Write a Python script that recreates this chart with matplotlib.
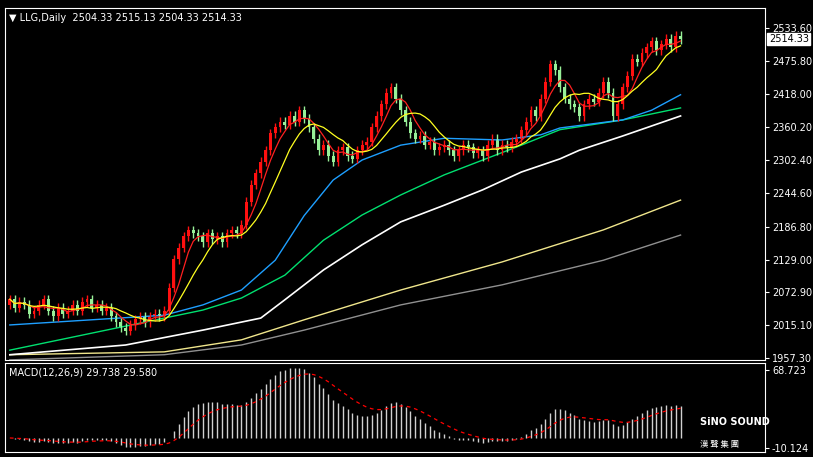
import numpy as np
import pandas as pd
import matplotlib
matplotlib.use("Agg")
import matplotlib.pyplot as plt

closes = [2060,2045,2055,2050,2035,2040,
          2050,2060,2040,2030,2045,2035,2040,
          2050,2040,2055,2060,2045,2050,2040,2045,
          2030,2020,2010,2005,2015,
          2025,2030,2020,2030,2035,2030,2040,
          2080,2130,2150,2170,2180,
          2175,2170,2160,2175,2165,2170,2160,2175,2180,2175,2190,
          2230,2260,2280,2300,2320,2350,2360,2370,2365,
          2380,2370,2390,2375,2360,
          2340,2320,2330,2310,2300,2320,2325,2310,2305,2320,2330,2335,
          2360,2380,2400,2420,2430,2410,
          2390,2370,2350,2340,2345,2330,2335,2320,2325,2330,
          2320,2310,2320,2330,2325,2315,2320,2310,2330,2340,2320,2330,2325,2335,2340,2355,
          2370,2390,2380,2410,2440,2470,2460,
          2430,2410,2400,2395,2380,2400,2410,2405,
          2420,2440,2420,2380,2400,
          2430,2450,2480,2475,2490,2500,
          2510,2495,2505,2515,2500,2520,2514.33]
first_open = 2050

blue_idx = [0,32,40,48,55,61,67,73,81,90,102,110,114,127,133,139]
blue_val = [2015,2032,2050,2076,2128,2206,2268,2303,2329,2341,2338,2347,2359,2373,2390,2417]
green_idx = [0,20,40,48,57,65,73,81,90,98,106,114,127,139]
green_val = [1971,2006,2041,2062,2102,2163,2207,2242,2277,2303,2329,2356,2373,2394]
white_idx = [0,24,40,52,57,65,73,81,90,98,106,114,118,127,139]
white_val = [1963,1980,2006,2027,2059,2111,2155,2195,2224,2251,2282,2305,2320,2345,2380]
pyel_idx = [0,32,48,61,81,102,123,139]
pyel_val = [1963,1968,1989,2024,2076,2125,2181,2233]
gray_idx = [0,32,48,61,81,102,123,139]
gray_val = [1954,1963,1980,2006,2050,2085,2128,2172]

price_ticks = [2533.60,2475.80,2418.00,2360.20,2302.40,2244.60,2186.80,2129.00,2072.90,2015.10,1957.30]

c = np.array(closes, dtype=float)
o = np.concatenate([[first_open], c[:-1]])
n = len(c)
x = np.arange(n)
s = pd.Series(c)
ma_fast = s.rolling(5, min_periods=1).mean()
ma_slow = s.rolling(10, min_periods=1).mean()
ema12 = s.ewm(span=12, adjust=False).mean()
ema26 = s.ewm(span=26, adjust=False).mean()
macd = ema12 - ema26
signal = macd.ewm(span=9, adjust=False).mean()

W, H = 813, 457
fig = plt.figure(figsize=(W/100, H/100), dpi=100, facecolor="black")
ax = fig.add_axes([5/W, 1-360/H, 760/W, 352/H], facecolor="black")
ax2 = fig.add_axes([5/W, 1-452/H, 760/W, 89/H], facecolor="black")
for a in (ax, ax2):
    for sp in a.spines.values():
        sp.set_color("white")
    a.set_xlim(-1, 156.5)
    a.set_xticks([])
    a.yaxis.tick_right()
    a.tick_params(axis="y", colors="white", labelsize=7, length=3, pad=2)

ax.plot(gray_idx, gray_val, color="#909090", lw=1)
ax.plot(pyel_idx, pyel_val, color="#f0e68c", lw=1)
ax.plot(white_idx, white_val, color="white", lw=1.2)
ax.plot(green_idx, green_val, color="#00e070", lw=1)
ax.plot(blue_idx, blue_val, color="#1e9fff", lw=1)

wick = 8
for i in range(n):
    up = c[i] >= o[i]
    col = "#ff1010" if up else "#98f098"
    lo_b, hi_b = min(o[i], c[i]), max(o[i], c[i])
    ax.vlines(i, lo_b - wick, hi_b + wick, color=col, lw=1)
    ax.bar(i, max(hi_b - lo_b, 1.5), bottom=lo_b, width=0.6, color=col, lw=0)

ax.plot(x, ma_fast, color="#ff2020", lw=0.9)
ax.plot(x, ma_slow, color="#ffff20", lw=0.9)

ax.set_ylim(1953.8, 2568.5)
ax.set_yticks(price_ticks)
ax.set_yticklabels([f"{v:.2f}" for v in price_ticks])
ax.text(0.005, 0.985, "\u25bc LLG,Daily  2504.33 2515.13 2504.33 2514.33", transform=ax.transAxes,
        color="white", fontsize=7, va="top")
ax.text(1.005, (closes[-1]-1953.8)/(2568.5-1953.8), f"{closes[-1]:.2f}", transform=ax.transAxes,
        fontsize=7, color="black", va="center", ha="left",
        bbox=dict(facecolor="white", edgecolor="white", pad=1))

ax2.vlines(x, 0, macd, color="#d0d0d0", lw=1)
ax2.plot(x, signal, color="red", lw=0.9, ls=(0, (3, 3)))
ax2.set_ylim(-14.2, 75.8)
ax2.set_yticks([68.723, -10.124])
ax2.set_yticklabels(["68.723", "-10.124"])
ax2.text(0.005, 0.95, "MACD(12,26,9) 29.738 29.580", transform=ax2.transAxes,
         color="white", fontsize=7, va="top")
ax2.text(0.915, 0.30, "SiNO SOUND", transform=ax2.transAxes, color="white", fontsize=7, fontweight="bold")
ax2.text(0.915, 0.06, "漢 聲 集 團", transform=ax2.transAxes, color="white", fontsize=6,
         fontfamily="Noto Sans CJK JP")

fig.savefig("out.png", dpi=100, facecolor="black")
